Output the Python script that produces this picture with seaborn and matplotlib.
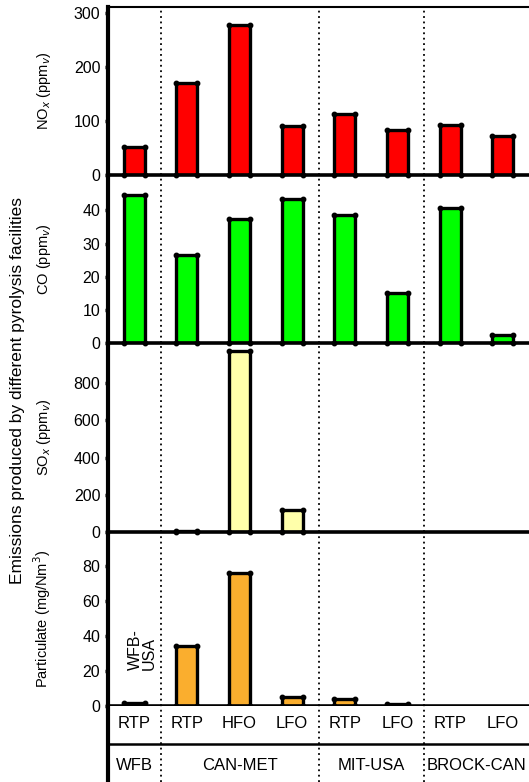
import numpy as np
import pandas as pd
import matplotlib
matplotlib.use("Agg")
import matplotlib.pyplot as plt
import seaborn as sns

# Facilities and the fuel/product measured at each one
facilities = ["WFB", "CAN-MET", "CAN-MET", "CAN-MET", "MIT-USA", "MIT-USA", "BROCK-CAN", "BROCK-CAN"]
products = ["RTP", "RTP", "HFO", "LFO", "RTP", "LFO", "RTP", "LFO"]
group_names = ["WFB", "CAN-MET", "MIT-USA", "BROCK-CAN"]

# Emission measurements (NaN = not reported)
nox_ppmv = [51, 170, 278, 91, 112, 83, 92, 72]
co_ppmv = [44.7, 26.5, 37.4, 43.5, 38.5, 15.2, 40.8, 2.3]
sox_ppmv = [np.nan, 5, 971, 116, np.nan, np.nan, np.nan, np.nan]
particulate_mg_nm3 = [1.5, 34, 76, 5.3, 4, 1, np.nan, np.nan]

panel_labels = ["NO$_x$ (ppm$_v$)", "CO (ppm$_v$)", "SO$_x$ (ppm$_v$)", "Particulate (mg/Nm$^3$)"]
panel_colors = ["#FF0000", "#00FF00", "#FFFFAA", "#FAAE2E"]
panel_ticks = [[0, 100, 200, 300], [0, 10, 20, 30, 40], [0, 200, 400, 600, 800], [0, 20, 40, 60, 80]]
panel_ylims = [(0, 311), (0, 50.7), (0, 1016), (0, 99.4)]

sns.set_style("ticks")
plt.rcParams["font.family"] = ["Liberation Sans", "DejaVu Sans"]
plt.rcParams["font.size"] = 11
plt.rcParams["text.color"] = "black"
plt.rcParams["axes.edgecolor"] = "black"
plt.rcParams["axes.labelcolor"] = "black"
plt.rcParams["ytick.color"] = "black"
plt.rcParams["xtick.color"] = "black"

W, H = 529, 782
fig = plt.figure(figsize=(W / 100, H / 100), dpi=100)

units = [f"{f}|{p}|{i}" for i, (f, p) in enumerate(zip(facilities, products))]
left = 108 / W
width = 1 - left
# panel extents in pixels (top, bottom)
extents = [(7, 175), (175, 343), (343, 532), (532, 706)]
series = [nox_ppmv, co_ppmv, sox_ppmv, particulate_mg_nm3]

# group boundaries between facilities
bounds = [i + 0.5 for i in range(len(facilities) - 1) if facilities[i] != facilities[i + 1]]

axes = []
for k, ((top, bot), vals) in enumerate(zip(extents, series)):
    ax = fig.add_axes([left, 1 - bot / H, width, (bot - top) / H])
    df = pd.DataFrame({"unit": units, "value": vals}).dropna()
    sns.barplot(data=df, x="unit", y="value", order=units, color=panel_colors[k],
                saturation=1, width=0.4, edgecolor="black", linewidth=2.4, ax=ax)
    # round dots at the bar corners
    for p in ax.patches:
        x0, y0 = p.get_x(), p.get_y()
        x1, y1 = x0 + p.get_width(), y0 + p.get_height()
        ax.plot([x0, x1, x0, x1], [y0, y0, y1, y1], "o", color="black", ms=3.2,
                clip_on=False, zorder=5)
    for b in bounds:
        ax.axvline(b, color="black", lw=1.3, ls=(0, (1, 2)), zorder=0)
    ax.set_xlim(-0.5, len(units) - 0.5)
    ax.set_ylim(*panel_ylims[k])
    ax.set_yticks(panel_ticks[k])
    ax.set_xticks([])
    ax.set_xlabel("")
    ax.set_ylabel(panel_labels[k], fontsize=10.5)
    ax.yaxis.set_label_coords(-0.13, 0.5)
    ax.tick_params(axis="y", length=2.5, width=2.5, pad=3, labelsize=11.5, colors="black")
    ax.spines["right"].set_visible(False)
    ax.spines["top"].set_visible(k == 0)
    ax.spines["top"].set_linewidth(1.5)
    ax.spines["left"].set_linewidth(3)
    ax.spines["bottom"].set_linewidth(2.6)
    ax.patch.set_alpha(0)
    axes.append(ax)

# WFB-USA note in the particulate panel
axes[3].text(0.15, 32, "WFB-\nUSA", rotation=90, ha="center", va="center",
             multialignment="left", fontsize=11.5, linespacing=0.95)

# Table of products and facilities under the panels
tab = fig.add_axes([left, 0, width, (H - 706) / H])
tab.set_xlim(-0.5, len(units) - 0.5)
tab.set_ylim(0, 1)
for s in ["top", "right", "bottom"]:
    tab.spines[s].set_visible(False)
tab.spines["left"].set_linewidth(3)
tab.set_xticks([])
tab.set_yticks([])
tab.axhline(0.5, color="black", lw=1.8)
for b in bounds:
    tab.axvline(b, color="black", lw=1.3, ls=(0, (1, 2)))
for i, p in enumerate(products):
    tab.text(i, 0.77, p, ha="center", va="center", fontsize=12)
for g in group_names:
    idx = [i for i, f in enumerate(facilities) if f == g]
    tab.text(np.mean(idx), 0.22, g, ha="center", va="center", fontsize=12)

fig.text(18 / W, 1 - 390 / H, "Emissions produced by different pyrolysis facilities",
         rotation=90, ha="center", va="center", fontsize=12.5)

fig.savefig("out.png", dpi=100)
